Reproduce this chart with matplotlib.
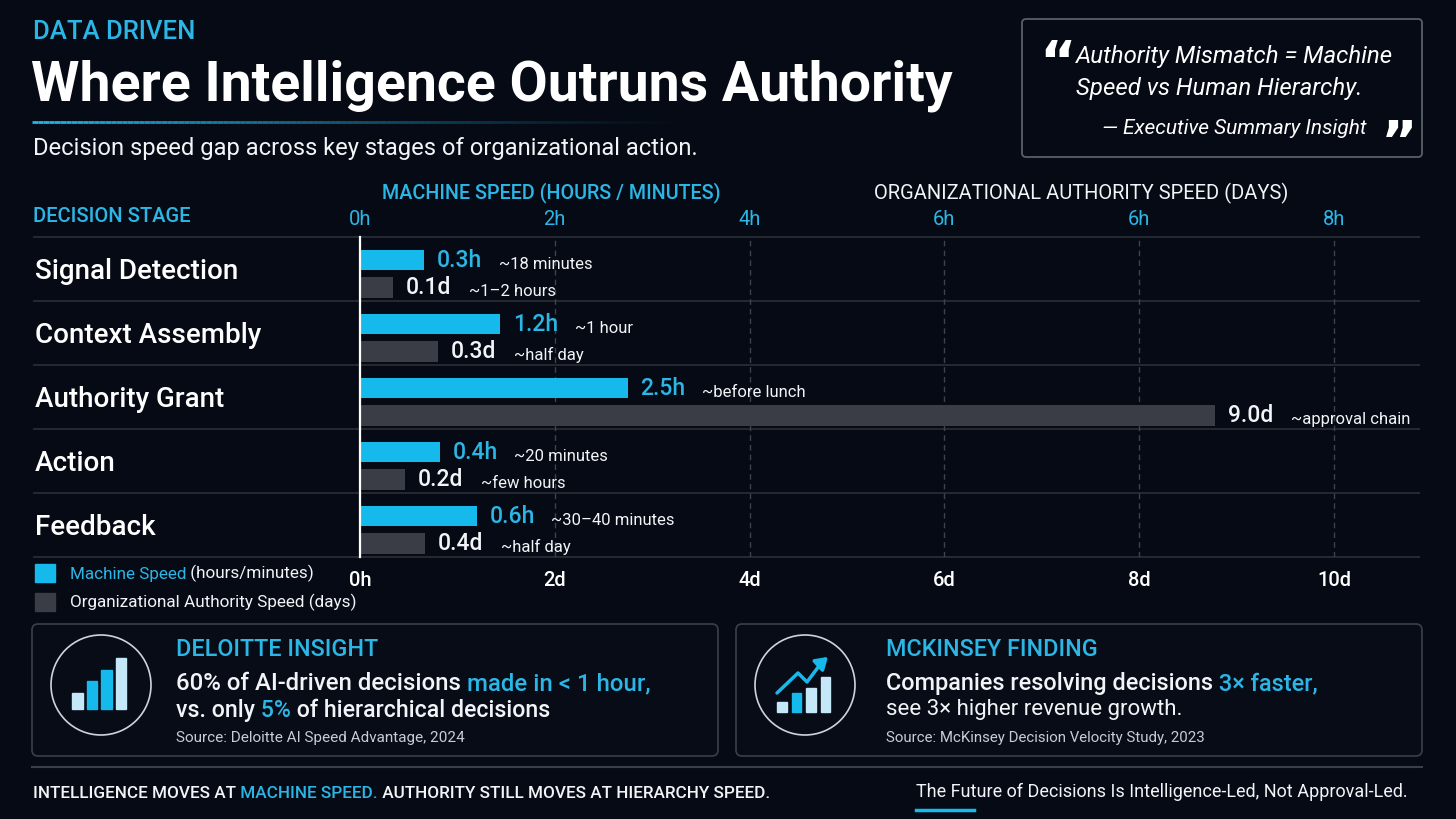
import numpy as np
import matplotlib
matplotlib.use('Agg')
import matplotlib.pyplot as plt
from matplotlib.patches import FancyBboxPatch, Rectangle, Circle
from matplotlib.collections import LineCollection
from matplotlib.transforms import blended_transform_factory
from matplotlib import font_manager

# ---- data ----
stages = ['Signal Detection', 'Context Assembly', 'Authority Grant', 'Action', 'Feedback']
# bar lengths as drawn (shared axis units: 1 unit = 1h on top scale = 1d on bottom scale)
machine_bar = [0.66, 1.44, 2.75, 0.82, 1.20]
authority_bar = [0.34, 0.80, 8.78, 0.46, 0.67]
machine_labels = ['0.3h', '1.2h', '2.5h', '0.4h', '0.6h']
machine_notes = ['~18 minutes', '~1 hour', '~before lunch', '~20 minutes', '~30\u201340 minutes']
authority_labels = ['0.1d', '0.3d', '9.0d', '0.2d', '0.4d']
authority_notes = ['~1\u20132 hours', '~half day', '~approval chain', '~few hours', '~half day']
tick_pos = [0, 2, 4, 6, 8, 10]
top_ticks = ['0h', '2h', '4h', '6h', '6h', '8h']
bottom_ticks = ['0h', '2d', '4d', '6d', '8d', '10d']
deloitte_icon = [16, 28, 39, 51]
mckinsey_icon = [10, 19, 24, 35]

BG = '#050a14'
CYAN = '#16b9ec'
CYAN_TXT = '#2bb6e6'
GRAY_BAR = '#3a3d45'
SEP = '#2a2f38'
GRID = '#3d424b'
LIGHT = '#c4e8f8'
WHITE = '#f2f4f7'
SOFT = '#c9ccd2'
BORDER = '#3b4048'

names = {f.name for f in font_manager.fontManager.ttflist}
TITLE_FONT = 'Liberation Sans Narrow' if 'Liberation Sans Narrow' in names else 'Roboto'
plt.rcParams['font.family'] = ['Roboto', 'DejaVu Sans']

W, H = 1456, 819
fig = plt.figure(figsize=(W / 100, H / 100), dpi=100, facecolor=BG)
ov = fig.add_axes([0, 0, 1, 1])
ov.set_xlim(0, W)
ov.set_ylim(H, 0)
ov.axis('off')
ov.set_facecolor(BG)
renderer = fig.canvas.get_renderer()


def fit_width(t, px):
    w = t.get_window_extent(renderer).width
    t.set_fontsize(t.get_fontsize() * px / w)


def rich(x, y, parts, size, weight='normal', **kw):
    t = ov.text(x, y, parts[0][0], color=parts[0][1], fontsize=size,
                fontweight=weight, va='baseline', ha='left', **kw)
    for s, c in parts[1:]:
        t = ov.annotate(s, xy=(1, 0), xycoords=t, color=c, fontsize=size,
                        fontweight=weight, va='bottom', ha='left', **kw)
    return t


# ---- header ----
ov.text(33, 32, 'DATA DRIVEN', color=CYAN_TXT, fontsize=18.5, fontweight='medium', va='center')
title = ov.text(31, 101, 'Where Intelligence Outruns Authority', color='white',
                fontsize=40, fontweight='bold', family=TITLE_FONT, va='baseline')
fit_width(title, 921)

xs = np.linspace(32, 700, 120)
segs = [[(xs[k], 122), (xs[k + 1], 122)] for k in range(len(xs) - 1)]
alphas = np.linspace(1, 0, len(segs)) ** 1.3
cols = [(0.12, 0.72, 0.92, a) for a in alphas]
ov.add_collection(LineCollection(segs, colors=cols, linewidths=2))

sub = ov.text(33, 148, 'Decision speed gap across key stages of organizational action.',
              color=WHITE, fontsize=16, va='center')
fit_width(sub, 663)

# quote box
ov.add_patch(FancyBboxPatch((1022, 19), 400, 138, boxstyle='round,pad=0,rounding_size=4',
                            fc='none', ec='#5a5e66', lw=1.3))
ov.text(1039, 80, '\u201c', color='white', fontsize=40, fontweight='bold',
        family='DejaVu Sans', va='baseline')
ov.text(1381, 160, '\u201d', color='white', fontsize=40, fontweight='bold',
        family='DejaVu Sans', va='baseline')
ov.text(1076, 56, 'Authority Mismatch = Machine', color='white', fontsize=17.3,
        fontstyle='italic', va='center')
ov.text(1076, 89, 'Speed vs Human Hierarchy.', color='white', fontsize=17.3,
        fontstyle='italic', va='center')
ov.text(1367, 128, '\u2014 Executive Summary Insight', color='white', fontsize=15,
        fontstyle='italic', va='center', ha='right')

# column headers
ov.text(551, 193, 'MACHINE SPEED (HOURS / MINUTES)', color=CYAN_TXT, fontsize=14.2,
        fontweight='medium', va='center', ha='center')
ov.text(1081, 193, 'ORGANIZATIONAL AUTHORITY SPEED (DAYS)', color=WHITE, fontsize=14.5,
        va='center', ha='center')
ov.text(33, 217, 'DECISION STAGE', color=CYAN_TXT, fontsize=14.5, fontweight='medium',
        va='center')

# ---- chart ----
x0, x1, ytop, ybot = 360, 1420, 237, 557
ax = fig.add_axes([x0 / W, 1 - ybot / H, (x1 - x0) / W, (ybot - ytop) / H])
ax.set_facecolor('none')
y = np.arange(len(stages))
ax.set_xlim(0, (x1 - x0) / 97.4)
ax.set_ylim(len(stages) - 0.5, -0.5)
ax.set_axisbelow(True)

ax.barh(y - 0.14, machine_bar, height=0.32, color=CYAN, zorder=2)
ax.barh(y + 0.29, authority_bar, height=0.32, color=GRAY_BAR, zorder=2)

for i in range(len(stages)):
    t = ax.annotate(machine_labels[i], xy=(machine_bar[i], y[i] - 0.14), xytext=(9, 0),
                    textcoords='offset points', va='center', ha='left',
                    color=CYAN_TXT, fontsize=16.5, fontweight='medium')
    ax.annotate(machine_notes[i], xy=(1, 0), xycoords=t, xytext=(12, 0),
                textcoords='offset points', va='bottom', ha='left',
                color=WHITE, fontsize=12)
    t = ax.annotate(authority_labels[i], xy=(authority_bar[i], y[i] + 0.29), xytext=(9, 0),
                    textcoords='offset points', va='center', ha='left',
                    color=WHITE, fontsize=16.5, fontweight='medium')
    ax.annotate(authority_notes[i], xy=(1, 0), xycoords=t, xytext=(13, 0),
                textcoords='offset points', va='bottom', ha='left',
                color=WHITE, fontsize=12)

trans = blended_transform_factory(fig.transFigure, ax.transData)
ax.hlines(np.arange(-0.5, len(stages)), 33 / W, 1420 / W, transform=trans,
          color=SEP, lw=1.2, clip_on=False, zorder=0)
for i, s in enumerate(stages):
    ax.text(35 / W, i + 0.04, s, transform=trans, color='white', fontsize=20,
            fontweight='medium', va='center', ha='left')

ax.set_xticks(tick_pos, bottom_ticks)
ax.tick_params(axis='x', length=0, pad=10, labelcolor='white', labelsize=14.5)
ax.tick_params(axis='y', left=False, labelleft=False)
for lab in ax.get_xticklabels():
    lab.set_fontweight('medium')
ax.grid(axis='x', color=GRID, ls=(0, (4, 3)), lw=1)
for side in ['top', 'right', 'bottom']:
    ax.spines[side].set_visible(False)
ax.spines['left'].set_color('white')
ax.spines['left'].set_linewidth(1.6)
ax.spines['left'].set_zorder(3)

sec = ax.secondary_xaxis('top')
sec.set_xticks(tick_pos, top_ticks)
sec.tick_params(length=0, pad=6, labelcolor=CYAN_TXT, labelsize=14.5)
sec.spines['top'].set_visible(False)

# legend
ov.add_patch(Rectangle((35, 564), 20, 18, color=CYAN))
ov.add_patch(Rectangle((35, 593), 20, 18, color=GRAY_BAR))
rich(70, 579, [('Machine Speed', CYAN_TXT), (' (hours/minutes)', WHITE)], 12.3)
ov.text(70, 602, 'Organizational Authority Speed (days)', color=WHITE, fontsize=12.3, va='center')

# ---- insight cards ----
for cx in (32, 736):
    ov.add_patch(FancyBboxPatch((cx, 624), 686, 132, boxstyle='round,pad=0,rounding_size=6',
                                fc='#070c17', ec=BORDER, lw=1.2))
ov.add_patch(Circle((101, 685), 50, fill=False, ec='#d0d4da', lw=1.2))
ov.add_patch(Circle((805, 685), 50, fill=False, ec='#d0d4da', lw=1.2))

for k, h in enumerate(deloitte_icon):
    ov.add_patch(Rectangle((72 + 14.5 * k, 709 - h), 10.5, h,
                           color=LIGHT if k in (0, 3) else CYAN))
for k, h in enumerate(mckinsey_icon):
    ov.add_patch(Rectangle((777 + 14.5 * k, 712 - h), 9.5, h,
                           color=CYAN if k == 1 else LIGHT))
ov.plot([777, 798, 807, 822], [693, 673, 682, 662], color=CYAN, lw=2.5, solid_capstyle='round')
ov.annotate('', xy=(830, 655), xytext=(820, 664),
            arrowprops=dict(arrowstyle='-|>,head_width=0.45,head_length=0.7', color=CYAN, lw=2.5))

ov.text(176, 649, 'DELOITTE INSIGHT', color=CYAN_TXT, fontsize=16.8, fontweight='medium', va='center')
rich(176, 690, [('60% of AI-driven decisions', WHITE), (' made in < 1 hour,', CYAN_TXT)],
     17.3, 'medium')
rich(176, 717, [('vs. only', WHITE), (' 5%', CYAN_TXT), (' of hierarchical decisions', WHITE)],
     16.7, 'medium')
ov.text(176, 738, 'Source: Deloitte AI Speed Advantage, 2024', color=SOFT, fontsize=11, va='center')

ov.text(886, 649, 'MCKINSEY FINDING', color=CYAN_TXT, fontsize=16.8, fontweight='medium', va='center')
rich(886, 690, [('Companies resolving decisions', WHITE), (' 3\u00d7 faster,', CYAN_TXT)],
     16.9, 'medium')
ov.text(886, 709, 'see 3\u00d7 higher revenue growth.', color=WHITE, fontsize=16, va='center')
ov.text(886, 738, 'Source: McKinsey Decision Velocity Study, 2023', color=SOFT, fontsize=10.8,
        va='center')

# ---- footer ----
ov.plot([32, 1422], [767, 767], color=BORDER, lw=1.5)
rich(33, 798, [('INTELLIGENCE MOVES AT', WHITE), (' MACHINE SPEED.', CYAN_TXT),
               (' AUTHORITY STILL MOVES AT HIERARCHY SPEED.', WHITE)], 12.3, 'medium')
ov.text(916, 792, 'The Future of Decisions Is Intelligence-Led, Not Approval-Led.',
        color=WHITE, fontsize=13, va='center')
ov.plot([916, 974], [810, 810], color=CYAN, lw=2.5)

fig.savefig('out.png', dpi=100, facecolor=BG)
